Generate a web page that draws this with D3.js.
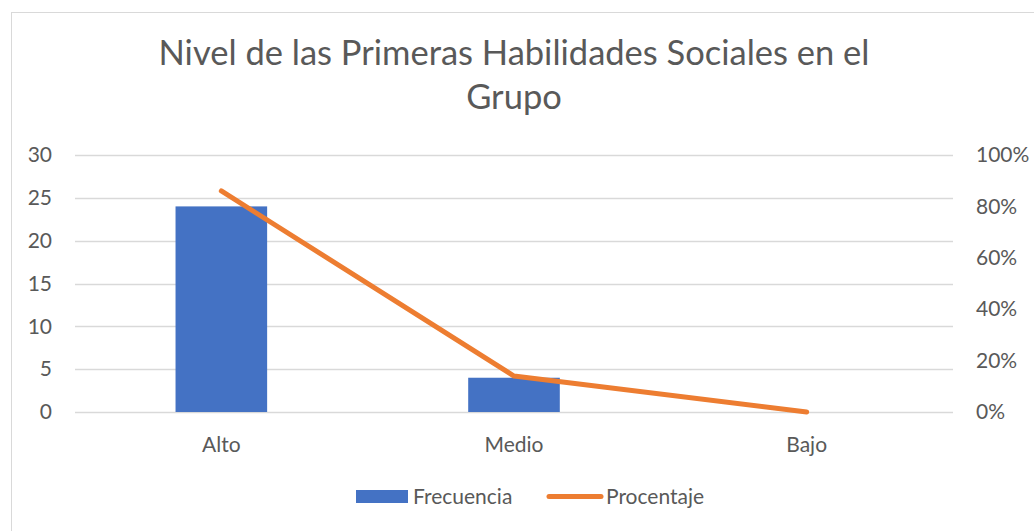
<!DOCTYPE html>
<html><head><meta charset="utf-8">
<script src="https://d3js.org/d3.v7.min.js"></script>
<style>body{margin:0;background:#fff}svg{display:block}</style>
</head><body>
<script>
const categories = ["Alto", "Medio", "Bajo"];
const frecuencia = [24, 4, 0];
const porcentaje = [0.86, 0.14, 0.0];
const leftTicks = [0, 5, 10, 15, 20, 25, 30];
const rightTicks = [0, 0.2, 0.4, 0.6, 0.8, 1.0];
const titleLines = ["Nivel de las Primeras Habilidades Sociales en el", "Grupo"];
const seriesNames = ["Frecuencia", "Procentaje"];

const W = 1034, H = 531;
const font = "Lato, 'Open Sans', sans-serif";
const txt = "#595959";
const fs = 21;
const svg = d3.select("body").append("svg").attr("width", W).attr("height", H);

svg.append("rect").attr("x", 11.5).attr("y", 12.5).attr("width", W + 10).attr("height", H + 10)
  .attr("fill", "#fff").attr("stroke", "#d9d9d9").attr("stroke-width", 1);

const L = 75, R = 953, T = 155, B = 412;
const x = d3.scaleBand().domain(categories).range([L, R]).padding(0);
const y = d3.scaleLinear().domain([0, 30]).range([B, T]);
const y2 = d3.scaleLinear().domain([0, 1]).range([B, T]);

// title
svg.append("g").selectAll("text").data(titleLines).join("text")
  .attr("x", 514).attr("y", (d, i) => 65 + i * 44)
  .attr("text-anchor", "middle").attr("font-family", font).attr("font-size", 34.5)
  .attr("fill", txt).text(d => d);

// gridlines
svg.append("g").selectAll("line").data(leftTicks).join("line")
  .attr("x1", L).attr("x2", R).attr("y1", d => Math.round(y(d)) + 0.5).attr("y2", d => Math.round(y(d)) + 0.5)
  .attr("stroke", "#d9d9d9").attr("stroke-width", 1.3);

// left axis
const la = svg.append("g").attr("transform", `translate(${L},0)`)
  .call(d3.axisLeft(y).tickValues(leftTicks).tickSize(0).tickPadding(23));
la.select(".domain").remove();
la.selectAll("text").attr("font-family", font).attr("font-size", fs).attr("fill", txt);

// right axis
const ra = svg.append("g").attr("transform", `translate(${R},0)`)
  .call(d3.axisRight(y2).tickValues(rightTicks).tickFormat(d3.format(".0%")).tickSize(0).tickPadding(23));
ra.select(".domain").remove();
ra.selectAll("text").attr("font-family", font).attr("font-size", fs).attr("fill", txt);

// x axis labels
const xa = svg.append("g").attr("transform", `translate(0,${B})`)
  .call(d3.axisBottom(x).tickSize(0).tickPadding(25));
xa.select(".domain").remove();
xa.selectAll("text").attr("font-family", font).attr("font-size", fs).attr("fill", txt);

// bars
const bw = x.bandwidth() * 0.313;
svg.append("g").selectAll("rect").data(categories).join("rect")
  .attr("x", (d) => x(d) + x.bandwidth() / 2 - bw / 2)
  .attr("y", (d, i) => y(frecuencia[i]))
  .attr("width", bw)
  .attr("height", (d, i) => y(0) - y(frecuencia[i]))
  .attr("fill", "#4472C4");

// line
const line = d3.line().x((d, i) => x(categories[i]) + x.bandwidth() / 2).y(d => y2(d));
svg.append("path").datum(porcentaje).attr("d", line)
  .attr("fill", "none").attr("stroke", "#ED7D31").attr("stroke-width", 5)
  .attr("stroke-linecap", "round").attr("stroke-linejoin", "round");

// legend
const lg = svg.append("g");
lg.append("rect").attr("x", 356).attr("y", 490).attr("width", 52).attr("height", 13).attr("fill", "#4472C4");
lg.append("text").attr("x", 413).attr("y", 504).attr("font-family", font).attr("font-size", fs).attr("fill", txt).text(seriesNames[0]);
lg.append("line").attr("x1", 549).attr("x2", 601).attr("y1", 496.5).attr("y2", 496.5)
  .attr("stroke", "#ED7D31").attr("stroke-width", 5).attr("stroke-linecap", "round");
lg.append("text").attr("x", 606).attr("y", 504).attr("font-family", font).attr("font-size", fs).attr("fill", txt).text(seriesNames[1]);
</script>
</body></html>
